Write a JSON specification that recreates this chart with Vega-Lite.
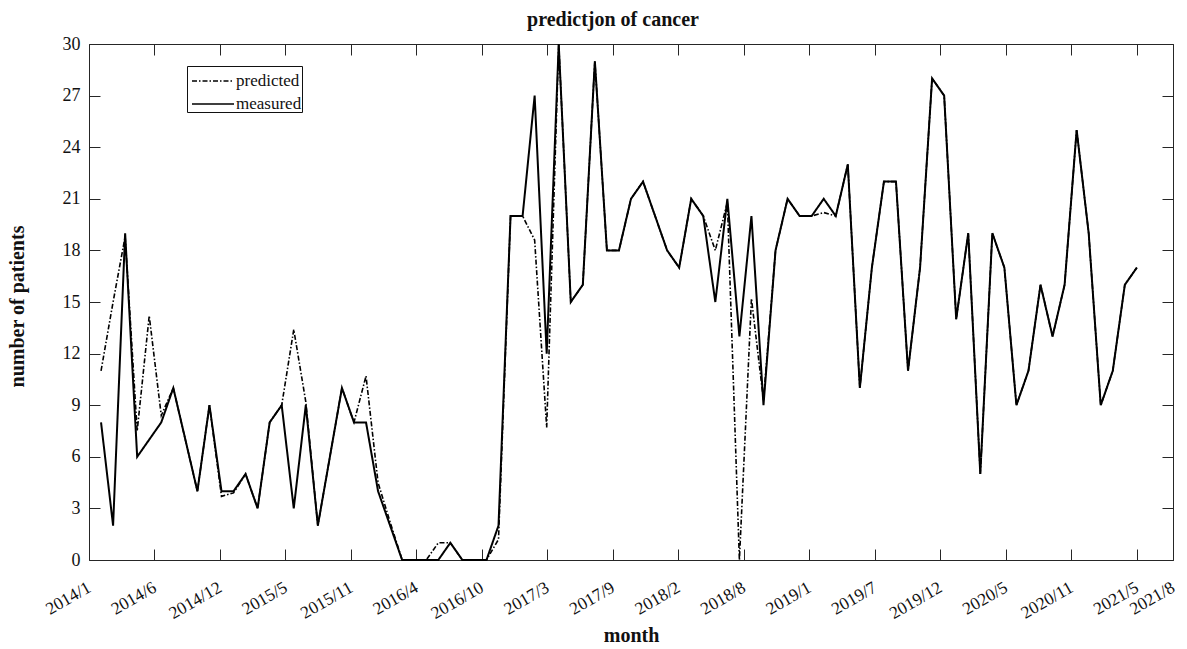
{
  "$schema": "https://vega.github.io/schema/vega-lite/v6.json",
  "autosize": "none",
  "width": 1084,
  "height": 516,
  "padding": {"left": 89, "top": 44, "right": 14, "bottom": 89},
  "background": "white",
  "config": {
    "view": {"stroke": "#262626", "strokeWidth": 1},
    "font": "Liberation Serif",
    "axis": {"labelFont": "Liberation Serif", "titleFont": "Liberation Serif", "labelColor": "#111", "titleColor": "#111", "tickColor": "#262626", "domain": false, "grid": false}
  },
  "title": {"text": "predictjon of cancer", "font": "Liberation Serif", "fontSize": 20, "fontWeight": "bold", "color": "#111", "anchor": "middle", "offset": 5, "dx": -18},
  "data": {"values": [
    {"i":1,"measured":8,"predicted":11},{"i":2,"measured":2,"predicted":15},{"i":3,"measured":19,"predicted":18.8},{"i":4,"measured":6,"predicted":7.5},
    {"i":5,"measured":7,"predicted":14.2},{"i":6,"measured":8,"predicted":8.4},{"i":7,"measured":10,"predicted":10},{"i":8,"measured":7,"predicted":7},
    {"i":9,"measured":4,"predicted":4},{"i":10,"measured":9,"predicted":9},{"i":11,"measured":4,"predicted":3.7},{"i":12,"measured":4,"predicted":3.9},
    {"i":13,"measured":5,"predicted":5},{"i":14,"measured":3,"predicted":3},{"i":15,"measured":8,"predicted":8},{"i":16,"measured":9,"predicted":9},
    {"i":17,"measured":3,"predicted":13.4},{"i":18,"measured":9,"predicted":9.2},{"i":19,"measured":2,"predicted":2},{"i":20,"measured":6,"predicted":6},
    {"i":21,"measured":10,"predicted":10},{"i":22,"measured":8,"predicted":8},{"i":23,"measured":8,"predicted":10.7},{"i":24,"measured":4,"predicted":4.5},
    {"i":25,"measured":2,"predicted":2.2},{"i":26,"measured":0,"predicted":0},{"i":27,"measured":0,"predicted":0},{"i":28,"measured":0,"predicted":0},
    {"i":29,"measured":0,"predicted":1},{"i":30,"measured":1,"predicted":1},{"i":31,"measured":0,"predicted":0},{"i":32,"measured":0,"predicted":0},
    {"i":33,"measured":0,"predicted":0},{"i":34,"measured":2,"predicted":1.2},{"i":35,"measured":20,"predicted":20},{"i":36,"measured":20,"predicted":20},
    {"i":37,"measured":27,"predicted":18.6},{"i":38,"measured":12,"predicted":7.7},{"i":39,"measured":30,"predicted":30},{"i":40,"measured":15,"predicted":15},
    {"i":41,"measured":16,"predicted":16},{"i":42,"measured":29,"predicted":29},{"i":43,"measured":18,"predicted":18},{"i":44,"measured":18,"predicted":18},
    {"i":45,"measured":21,"predicted":21},{"i":46,"measured":22,"predicted":22},{"i":47,"measured":20,"predicted":20},{"i":48,"measured":18,"predicted":18},
    {"i":49,"measured":17,"predicted":17},{"i":50,"measured":21,"predicted":21},{"i":51,"measured":20,"predicted":20},{"i":52,"measured":15,"predicted":18},
    {"i":53,"measured":21,"predicted":20.8},{"i":54,"measured":13,"predicted":0},{"i":55,"measured":20,"predicted":15.2},{"i":56,"measured":9,"predicted":9.3},
    {"i":57,"measured":18,"predicted":18},{"i":58,"measured":21,"predicted":21},{"i":59,"measured":20,"predicted":20},{"i":60,"measured":20,"predicted":20},
    {"i":61,"measured":21,"predicted":20.2},{"i":62,"measured":20,"predicted":20},{"i":63,"measured":23,"predicted":23},{"i":64,"measured":10,"predicted":10},
    {"i":65,"measured":17,"predicted":17},{"i":66,"measured":22,"predicted":22},{"i":67,"measured":22,"predicted":22},{"i":68,"measured":11,"predicted":11},
    {"i":69,"measured":17,"predicted":17},{"i":70,"measured":28,"predicted":28},{"i":71,"measured":27,"predicted":27},{"i":72,"measured":14,"predicted":14},
    {"i":73,"measured":19,"predicted":19},{"i":74,"measured":5,"predicted":5},{"i":75,"measured":19,"predicted":19},{"i":76,"measured":17,"predicted":17},
    {"i":77,"measured":9,"predicted":9},{"i":78,"measured":11,"predicted":11},{"i":79,"measured":16,"predicted":16},{"i":80,"measured":13,"predicted":13},
    {"i":81,"measured":16,"predicted":16},{"i":82,"measured":25,"predicted":25},{"i":83,"measured":19,"predicted":19},{"i":84,"measured":9,"predicted":9},
    {"i":85,"measured":11,"predicted":11},{"i":86,"measured":16,"predicted":16},{"i":87,"measured":17,"predicted":17}
  ]},
  "layer": [
    {
      "mark": {"type": "line", "color": "black", "strokeWidth": 1.6},
      "encoding": {
        "x": {"field": "i", "type": "quantitative", "scale": {"domain": [0, 90], "nice": false, "zero": false},
          "axis": {"orient": "bottom", "values": [0, 5.4375, 10.875, 16.3125, 21.75, 27.1875, 32.625, 38.0625, 43.5, 48.9375, 54.375, 59.8125, 65.25, 70.6875, 76.125, 81.5625, 87, 90],
            "labelExpr": "['2014/1','2014/6','2014/12','2015/5','2015/11','2016/4','2016/10','2017/3','2017/9','2018/2','2018/8','2019/1','2019/7','2019/12','2020/5','2020/11','2021/5','2021/8'][round(datum.value/5.4375)]",
            "tickSize": -11, "labelAngle": -30, "labelAlign": "right", "labelBaseline": "middle", "labelPadding": 37, "labelDx": 5, "labelFontSize": 17.5, "labelOverlap": false, "labelBound": false, "labelFlush": false,
            "title": "month", "titleFontSize": 20, "titleFontWeight": "bold", "titleX": 542, "titleY": 75, "titleBaseline": "middle", "titleAlign": "center"}},
        "y": {"field": "predicted", "type": "quantitative", "scale": {"domain": [0, 30], "nice": false},
          "axis": {"orient": "left", "values": [0, 3, 6, 9, 12, 15, 18, 21, 24, 27, 30], "tickSize": -11, "labelPadding": 20, "labelFontSize": 18, "labelOverlap": false, "labelFlush": false,
            "title": "number of patients", "titleFontSize": 20, "titleFontWeight": "bold", "titleX": -72, "titleY": 262, "titleAngle": -90, "titleBaseline": "middle", "titleAlign": "center"}},
        "strokeDash": {"datum": "predicted", "type": "nominal",
          "scale": {"domain": ["predicted", "measured"], "range": [[5, 2, 1.5, 2], [1, 0]]},
          "legend": {"title": null, "orient": "none", "legendX": 98, "legendY": 22, "strokeColor": "#111", "fillColor": "white", "padding": 0, "rowPadding": -8,
            "symbolType": "M-1.5,0H1.5", "symbolSize": 784, "symbolOffset": 11, "symbolStrokeWidth": 1.5, "symbolStrokeColor": "black",
            "labelFontSize": 17, "labelColor": "#111", "labelFont": "Liberation Serif", "labelOffset": 8, "cornerRadius": 0}}
      }
    },
    {
      "mark": {"type": "line", "color": "black", "strokeWidth": 2},
      "encoding": {
        "x": {"field": "i", "type": "quantitative", "scale": {"domain": [0, 90], "nice": false, "zero": false},
          "axis": {"orient": "top", "values": [0, 5.4375, 10.875, 16.3125, 21.75, 27.1875, 32.625, 38.0625, 43.5, 48.9375, 54.375, 59.8125, 65.25, 70.6875, 76.125, 81.5625, 87, 90], "tickSize": -11, "labels": false, "title": null}},
        "y": {"field": "measured", "type": "quantitative", "scale": {"domain": [0, 30], "nice": false},
          "axis": {"orient": "right", "values": [0, 3, 6, 9, 12, 15, 18, 21, 24, 27, 30], "tickSize": -11, "labels": false, "title": null}},
        "strokeDash": {"datum": "measured", "type": "nominal"}
      }
    }
  ],
  "resolve": {"axis": {"x": "independent", "y": "independent"}}
}
